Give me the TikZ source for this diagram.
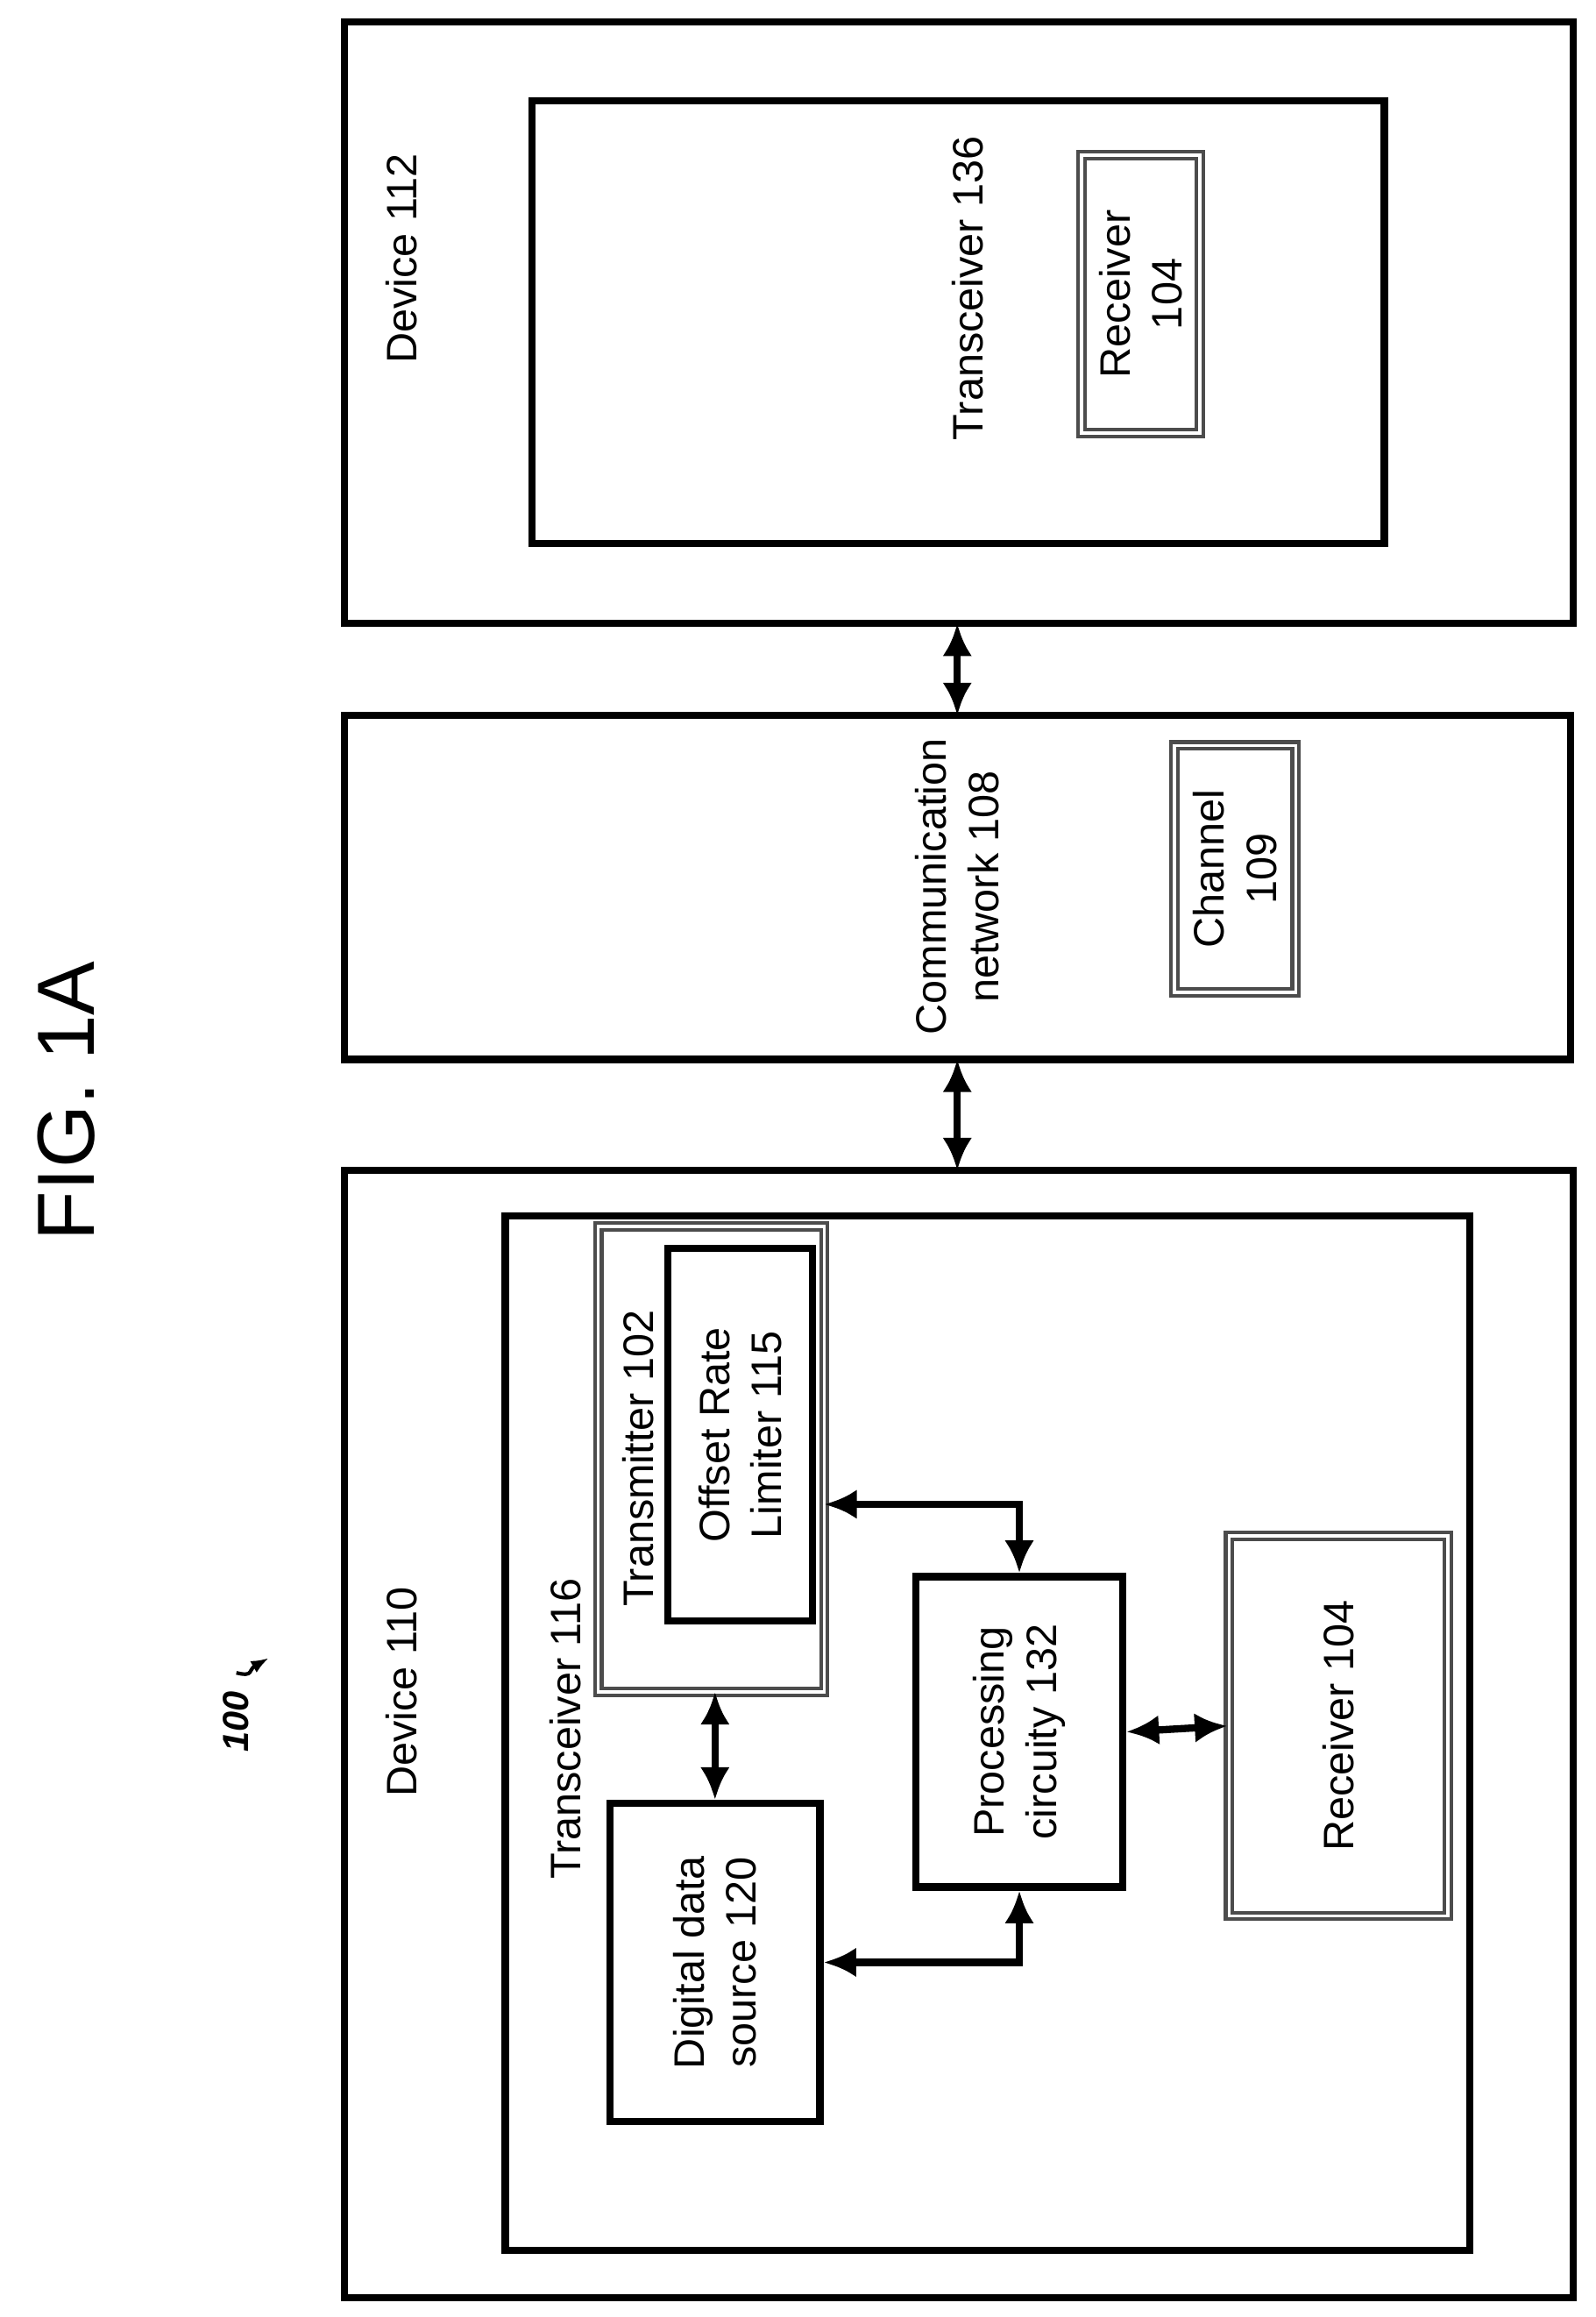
\documentclass[tikz,border=0pt]{standalone}
\usepackage{fontspec}
\setmainfont{Liberation Sans}
\usetikzlibrary{arrows.meta}
\begin{document}
\begin{tikzpicture}[
        x=0.01cm, y=-0.01cm,
        box/.style={draw=black, line width=1.4pt},
        sub/.style={draw=black!70, line width=0.7pt, double=white, double distance=0.6pt},
        label/.style={rotate=90, font=\fontsize{8.2}{10}\selectfont, align=center},
        link/.style={{Latex[length=2.2mm,width=2mm]}-{Latex[length=2.2mm,width=2mm]}, line width=1.4pt},
    ]
        \useasboundingbox (0,0) rectangle (1080,1568);
        % outer devices and network
        \draw[box] (233,15) rectangle (1065,422);
        \node[label] (dev112) at (272,175) {Device 112};
        \draw[box] (360,68) rectangle (937,368);
        \node[label] (trx136) at (655,195) {Transceiver 136};
        \node[sub, minimum width=1.88cm, minimum height=0.8cm, label] (rx104a) at (772,199) {Receiver\\104};

        \draw[box] (233,484) rectangle (1063,717);
        \node[label] (net108) at (648,600) {Communication\\network 108};
        \node[sub, minimum width=1.67cm, minimum height=0.82cm, label] (ch109) at (836,588) {Channel\\109};

        \draw[box] (233,792) rectangle (1065,1555);
        \node[label] (dev110) at (272,1145) {Device 110};
        \draw[box] (342,823) rectangle (995,1523);
        \node[label] (trx116) at (383,1170) {Transceiver 116};

        % inner blocks
        \draw[sub] (405,830) rectangle (558,1145);
        \node[label] (tx102) at (432,987) {Transmitter 102};
        \node[box, minimum width=2.52cm, minimum height=0.98cm, label] (orl115) at (501,971) {Offset Rate\\Limiter 115};
        \node[box, minimum width=2.1cm, minimum height=1.4cm, label] (proc132) at (690,1172) {Processing\\circuity 132};
        \node[sub, minimum width=2.57cm, minimum height=1.48cm, label] (rx104b) at (906,1168) {Receiver 104};
        \node[box, minimum width=2.15cm, minimum height=1.42cm, label] (dds120) at (484,1328) {Digital data\\source 120};

        % connectors
        \coordinate (n1) at (648,422);
        \coordinate (n2) at (648,484);
        \coordinate (n3) at (648,717);
        \coordinate (n4) at (648,792);
        \coordinate (txS) at (484,1145);
        \coordinate (txE) at (558,1018);
        \draw[link] (n1) -- (n2);
        \draw[link] (n3) -- (n4);
        \draw[link] (txS) -- (dds120.east);
        \draw[link] (txE) -| (proc132.east);
        \draw[link] (proc132.south) -- (rx104b.north);
        \draw[link] (dds120.south) -| (proc132.west);

        % titles
        \node[rotate=90, font=\fontsize{15.6}{18}\selectfont] (fig) at (45,745) {FIG. 1A};
        \node[rotate=90, font=\bfseries\itshape\fontsize{7}{8}\selectfont] (ref100) at (160,1165) {100};
        \draw[line width=0.7pt, -{Latex[length=1.2mm]}] (ref100.east) .. controls (172,1135) and (168,1130) .. (182,1122);
    \end{tikzpicture}
\end{document}
